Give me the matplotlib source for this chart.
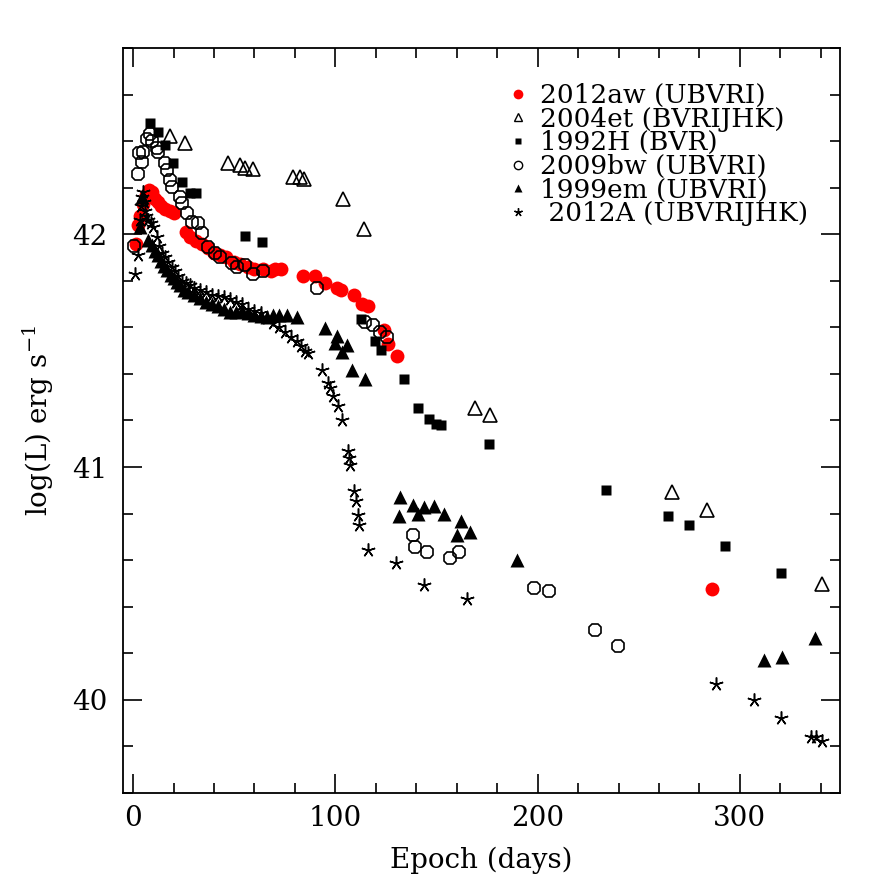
import matplotlib
matplotlib.use("Agg")
import matplotlib.pyplot as plt
from matplotlib.lines import Line2D
from matplotlib.ticker import MultipleLocator

plt.rcParams['font.family'] = ['DejaVu Serif']
plt.rcParams['mathtext.fontset'] = 'dejavuserif'

# bolometric light curves, epoch in days and log(L) in erg/s
sn2012aw_day = [1.5, 2.5, 3.5, 5, 6.5, 8, 9.5, 11, 12.5, 14, 16, 18, 20, 26, 28, 31, 34, 37,
                40, 43, 46, 50, 53, 57, 60, 64, 68, 70, 73, 84, 90, 95, 101, 103, 109, 113,
                116, 124, 126, 130.5, 286]
sn2012aw_L = [41.96, 42.04, 42.08, 42.13, 42.17, 42.19, 42.18, 42.15, 42.14, 42.12, 42.11,
              42.10, 42.09, 42.01, 41.99, 41.97, 41.96, 41.94, 41.92, 41.91, 41.90, 41.88,
              41.87, 41.86, 41.85, 41.85, 41.84, 41.85, 41.85, 41.82, 41.82, 41.79, 41.77,
              41.76, 41.74, 41.70, 41.69, 41.59, 41.53, 41.475, 40.476]

sn2004et_day = [18.3, 25.7, 47.1, 52.9, 55.4, 59.5, 79.2, 82.6, 84.7, 103.7, 114.3, 169,
                176.5, 266.6, 283.7, 340.6]
sn2004et_L = [42.42, 42.39, 42.305, 42.297, 42.283, 42.279, 42.247, 42.245, 42.236, 42.15,
              42.023, 41.253, 41.224, 40.891, 40.814, 40.496]

sn1992H_day = [8.4, 12.5, 15.8, 19.9, 24.1, 28.2, 31.1, 55.4, 63.6, 112.7, 119.6, 122.6, 134,
               140.9, 146.3, 149.8, 152.1, 175.8, 233.6, 264.3, 274.8, 292.8, 320.2]
sn1992H_L = [42.476, 42.44, 42.383, 42.305, 42.226, 42.175, 42.175, 41.993, 41.968, 41.636,
             41.543, 41.503, 41.379, 41.252, 41.206, 41.186, 41.182, 41.10, 40.90, 40.79,
             40.751, 40.659, 40.543]

sn2009bw_day = [0.2, 2.6, 3.0, 4.3, 5.1, 6.8, 8.4, 9.2, 11.7, 12.5, 15.8, 16.6, 18.3, 19.1,
                23.2, 24.1, 26.5, 29, 32.3, 34, 37.2, 40.5, 43, 48.8, 51.3, 55.4, 59.5, 64.4,
                90.8, 114.7, 118.8, 122.1, 125.4, 138.6, 139.4, 145.2, 156.7, 161.3, 198.4,
                205.5, 228.2, 239.6]
sn2009bw_L = [41.95, 42.26, 42.35, 42.31, 42.355, 42.41, 42.43, 42.40, 42.37, 42.355, 42.305,
              42.276, 42.233, 42.204, 42.16, 42.133, 42.09, 42.054, 42.047, 42.004, 41.947,
              41.918, 41.904, 41.876, 41.86, 41.868, 41.83, 41.84, 41.768, 41.625, 41.611,
              41.582, 41.56, 40.709, 40.657, 40.635, 40.609, 40.635, 40.479, 40.468, 40.30,
              40.23]

sn1999em_day = [3.5, 4.3, 7.6, 9.5, 11, 12.5, 14, 15.5, 17, 18.5, 20, 21.5, 23, 25, 27, 30,
                33, 36, 39, 42, 45, 48, 51, 54, 57, 60, 63, 66, 69, 72, 76, 81, 94.9, 100.7,
                99.9, 105.6, 103.2, 108.1, 114.7, 131.7, 132, 138.6, 140.7, 143.8, 148.8,
                153.7, 160.3, 162, 166.6, 190, 312, 320.8, 337.1]
sn1999em_L = [42.03, 42.16, 41.976, 41.955, 41.93, 41.91, 41.885, 41.865, 41.845, 41.825,
              41.81, 41.795, 41.78, 41.76, 41.75, 41.74, 41.725, 41.71, 41.70, 41.69, 41.68,
              41.665, 41.665, 41.67, 41.66, 41.655, 41.65, 41.645, 41.655, 41.655, 41.654,
              41.646, 41.597, 41.563, 41.532, 41.525, 41.496, 41.418, 41.379, 40.791, 40.871,
              40.835, 40.80, 40.828, 40.831, 40.80, 40.709, 40.767, 40.719, 40.60, 40.173,
              40.185, 40.266]

sn2012A_day = [1, 2.6, 3.2, 4, 4.5, 5, 5.5, 6, 6.5, 7.6, 9, 10, 11.7, 13, 14.5, 16, 17.5, 19,
               20.5, 22, 24, 26, 28, 30, 33, 36, 39, 42, 45, 48, 51, 54, 57, 60, 63, 66, 69,
               72, 75, 78, 81, 83, 85, 86.7, 93.3, 96.5, 97.4, 99, 101.5, 103.2, 106.1, 106.9,
               107.3, 109.2, 110.1, 111.1, 111.9, 116, 129.8, 143.8, 165.3, 288.4, 307.1,
               320.5, 335, 337.5, 340.4]
sn2012A_L = [41.83, 41.91, 42.06, 42.12, 42.16, 42.18, 42.14, 42.10, 42.08, 42.06, 42.05,
             42.03, 41.99, 41.95, 41.92, 41.90, 41.88, 41.86, 41.84, 41.82, 41.80, 41.79,
             41.78, 41.77, 41.76, 41.75, 41.74, 41.735, 41.73, 41.72, 41.71, 41.70, 41.68,
             41.67, 41.66, 41.64, 41.62, 41.60, 41.58, 41.56, 41.54, 41.52, 41.50, 41.49,
             41.418, 41.36, 41.339, 41.303, 41.26, 41.20, 41.067, 41.039, 41.01, 40.898,
             40.852, 40.795, 40.752, 40.645, 40.588, 40.492, 40.433, 40.07, 40.0, 39.923,
             39.84, 39.84, 39.822]

legend_labels = ['2012aw (UBVRI)', '2004et (BVRIJHK)', '1992H (BVR)',
                 '2009bw (UBVRI)', '1999em (UBVRI)', ' 2012A (UBVRIJHK)']

star = (5, 2, 0)

fig = plt.figure(figsize=(8.88, 8.88), dpi=100)
ax = fig.add_axes([0.1385, 0.107, 0.8075, 0.839])

ax.plot(sn2012aw_day, sn2012aw_L, 'o', color='red', ms=10, mec='none')
ax.plot(sn2004et_day, sn2004et_L, '^', mfc='none', mec='black', ms=10, mew=1.2)
ax.plot(sn1992H_day, sn1992H_L, 's', color='black', ms=7, mec='none')
ax.plot(sn2009bw_day, sn2009bw_L, '8', mfc='none', mec='black', ms=10, mew=1.2)
ax.plot(sn1999em_day, sn1999em_L, '^', color='black', ms=9.5, mec='none')
ax.plot(sn2012A_day, sn2012A_L, ls='none', marker=star, color='black', ms=10, mew=1.1)

handles = [
    Line2D([], [], ls='none', marker='o', color='red', ms=7, mec='none'),
    Line2D([], [], ls='none', marker='^', mfc='none', mec='black', ms=6, mew=1.0),
    Line2D([], [], ls='none', marker='s', color='black', ms=5, mec='none'),
    Line2D([], [], ls='none', marker='o', mfc='none', mec='black', ms=6, mew=1.0),
    Line2D([], [], ls='none', marker='^', color='black', ms=6, mec='none'),
    Line2D([], [], ls='none', marker=star, color='black', ms=6, mew=1.0),
]
ax.legend(handles, legend_labels, loc='upper left', bbox_to_anchor=(0.536, 0.953),
          frameon=False, fontsize=19, labelspacing=-0.05, handlelength=0.8,
          handletextpad=0.44, borderpad=0.0, borderaxespad=0.0)

ax.set_xlim(-5, 349.5)
ax.set_ylim(39.6, 42.8)
ax.xaxis.set_major_locator(MultipleLocator(100))
ax.xaxis.set_minor_locator(MultipleLocator(20))
ax.yaxis.set_major_locator(MultipleLocator(1))
ax.yaxis.set_minor_locator(MultipleLocator(0.2))
ax.tick_params(which='both', direction='in', top=True, right=True, width=1.2,
               labelsize=20)
ax.tick_params(which='major', length=14)
ax.tick_params(which='minor', length=7)
ax.tick_params(axis='x', pad=9)
ax.tick_params(axis='y', pad=11)
for sp in ax.spines.values():
    sp.set_linewidth(1.3)

ax.set_xlabel('Epoch (days)', fontsize=20, labelpad=10)
ax.set_ylabel('log(L) erg s$^{-1}$', fontsize=20, labelpad=12)

fig.savefig('out.png', dpi=100)
